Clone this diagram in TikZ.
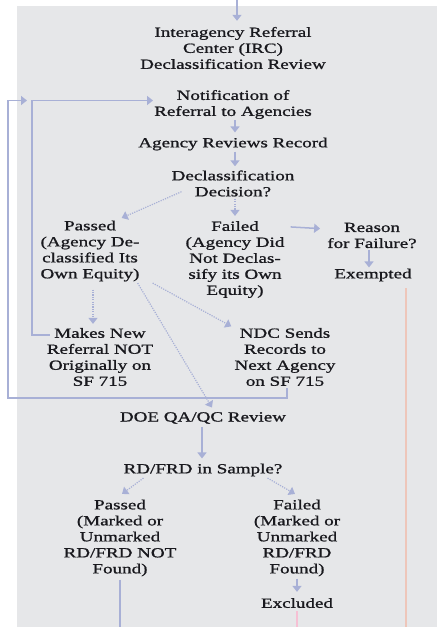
\documentclass[tikz,border=0pt]{standalone}
\usepackage{fontspec}
\setmainfont{Liberation Serif}[FakeStretch=1.36,FakeBold=1.1]
\usetikzlibrary{arrows.meta,calc}
\definecolor{bggray}{RGB}{230,231,233}
\definecolor{flowc}{RGB}{168,176,214}
\definecolor{salmonc}{RGB}{238,198,186}
\definecolor{pinkc}{RGB}{246,192,212}
\definecolor{txtc}{RGB}{25,25,30}
\begin{document}
\begin{tikzpicture}[x=1pt,y=-1pt,
  lbl/.style={align=center,inner sep=0pt,font=\fontsize{14}{16}\selectfont,text=txtc},
  flow/.style={draw=flowc,line width=1.5pt},
  dotflow/.style={draw=flowc,line width=1.2pt,dash pattern=on 1.2pt off 1.2pt},
  tip/.style={-{Triangle[length=6pt,width=9pt]}}]
\useasboundingbox (0,0) rectangle (442,627);
\fill[bggray] (17,6) rectangle (437,627);
\node[lbl] (irc) at (233,48) {Interagency Referral\\Center (IRC)\\Declassification Review};
\node[lbl] (notif) at (233,104.5) {Notification of\\Referral to Agencies};
\node[lbl] (agency) at (233,144) {Agency Reviews Record};
\node[lbl] (dec) at (233,183.5) {Declassification\\Decision?};
\node[lbl] (pass1) at (90,251) {Passed\\(Agency De-\\classified Its\\Own Equity)};
\node[lbl] (fail1) at (235,259.5) {Failed\\(Agency Did\\Not Declas-\\sify its Own\\Equity)};
\node[lbl] (reason) at (372,235.5) {Reason\\for Failure?};
\node[lbl] (exempt) at (373,275) {Exempted};
\node[lbl] (makes) at (100,357) {Makes New\\Referral NOT\\Originally on\\SF 715};
\node[lbl] (ndc) at (285,357) {NDC Sends\\Records to\\Next Agency\\on SF 715};
\node[lbl] (doe) at (203,418) {DOE QA/QC Review};
\node[lbl] (rd) at (203,470) {RD/FRD in Sample?};
\node[lbl] (pass2) at (120,538) {Passed\\(Marked or\\Unmarked\\RD/FRD NOT\\Found)};
\node[lbl] (fail2) at (297,538) {Failed\\(Marked or\\Unmarked\\RD/FRD\\Found)};
\node[lbl] (excl) at (297,603) {Excluded};
\coordinate (top) at (237,0);
\coordinate (innerx) at (32,100);
\coordinate (outerbot) at (8,398);
\coordinate (bot) at (0,627);
\coordinate (nin) at ([yshift=4pt]notif.west);
\coordinate (exstart) at ($(exempt.south east)+(-6,6.5)$);
\coordinate (exclstart) at ($(excl.south)+(0,3)$);
\coordinate (passstart) at ($(pass2.south)+(0,3)$);
\coordinate (ndcstart) at ($(ndc.south)+(2,2)$);
% main flow
\draw[flow,tip,shorten >=6pt] (top) -- (top |- irc.north);
\draw[flow,tip,shorten <=1pt,shorten >=5pt] ([xshift=2pt]notif.south) -- ([xshift=2pt]notif.south |- agency.north);
\draw[flow,tip,shorten <=1pt,shorten >=4pt] ([xshift=2pt]agency.south) -- ([xshift=2pt]agency.south |- dec.north);
\draw[dotflow,tip,shorten <=2pt,shorten >=5pt] ([xshift=2pt]dec.south) -- ([xshift=2pt]dec.south |- fail1.north);
\draw[dotflow,tip] ($(dec.south west)+(10,-5)$) -- ($(pass1.north east)+(-18,-2.5)$);
\draw[flow,tip] ($(fail1.north east)+(6,6)$) -- ($(reason.north west)+(-7,6)$);
\draw[flow,tip,shorten <=2pt,shorten >=1pt] ([xshift=-3pt]reason.south) -- ([xshift=-3pt]reason.south |- exempt.north);
\draw[draw=salmonc,line width=1.5pt] (exstart) -- (exstart |- bot);
% passed branch
\draw[dotflow,tip,shorten <=8pt,shorten >=4pt] ([xshift=3pt]pass1.south) -- ([xshift=3pt]pass1.south |- makes.north);
\draw[dotflow,tip] ($(pass1.south east)+(-2,1.5)$) -- ($(doe.north)+(9,-4.5)$);
\draw[dotflow,tip] ($(pass1.south east)+(13,1.5)$) -- ($(ndc.north west)+(-3,-1.5)$);
% loops
\draw[flow,tip,shorten >=1pt] ($(makes.north west)+(3,7)$) -| (innerx |- nin) -- (nin);
\draw[flow,tip,shorten >=5pt] (ndcstart) -- (ndcstart |- outerbot) -- (outerbot) -- (outerbot |- nin) -- (innerx |- nin);
% QA
\draw[flow,tip,shorten <=3pt,shorten >=5pt] ([xshift=-1pt]doe.south) -- ([xshift=-1pt]doe.south |- rd.north);
\draw[dotflow,tip] ($(rd.south west)+(20,1.5)$) -- ($(pass2.north)+(2,-5.5)$);
\draw[dotflow,tip] ($(rd.south east)+(-15,1.5)$) -- ($(fail2.north)+(-2,-5.5)$);
\draw[flow,tip,shorten <=2pt,shorten >=6pt] (fail2.south) -- (fail2.south |- excl.north);
\draw[draw=pinkc,line width=1.5pt] (exclstart) -- (exclstart |- bot);
\draw[flow] (passstart) -- (passstart |- bot);
\end{tikzpicture}
\end{document}
